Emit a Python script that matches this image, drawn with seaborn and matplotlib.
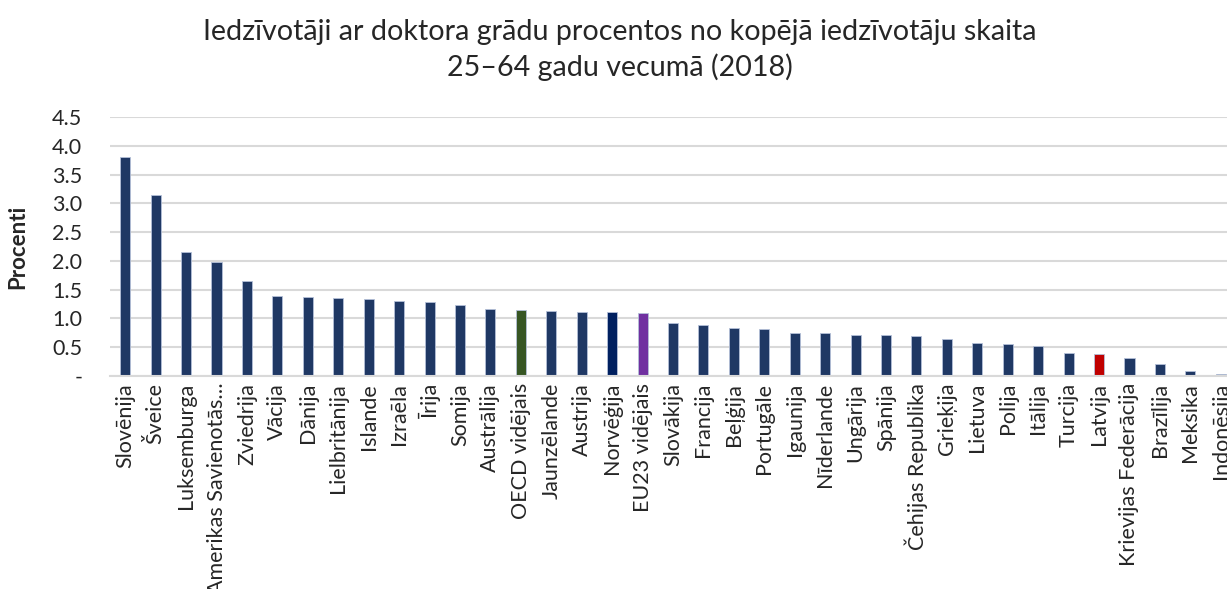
import matplotlib
matplotlib.use('Agg')
import matplotlib.pyplot as plt
import pandas as pd
import seaborn as sns

countries = [
    'Slovēnija', 'Šveice', 'Luksemburga', 'Amerikas Savienotās…', 'Zviedrija',
    'Vācija', 'Dānija', 'Lielbritānija', 'Islande', 'Izraēla', 'Īrija', 'Somija',
    'Austrālija', 'OECD vidējais', 'Jaunzēlande', 'Austrija', 'Norvēģija',
    'EU23 vidējais', 'Slovākija', 'Francija', 'Beļģija', 'Portugāle', 'Igaunija',
    'Nīderlande', 'Ungārija', 'Spānija', 'Čehijas Republika', 'Grieķija',
    'Lietuva', 'Polija', 'Itālija', 'Turcija', 'Latvija', 'Krievijas Federācija',
    'Brazīlija', 'Meksika', 'Indonēsija',
]
values = [
    3.80, 3.14, 2.15, 1.98, 1.65, 1.39, 1.37, 1.35, 1.34, 1.30, 1.29, 1.23,
    1.16, 1.15, 1.13, 1.11, 1.11, 1.09, 0.92, 0.88, 0.83, 0.81, 0.74, 0.74,
    0.72, 0.71, 0.70, 0.65, 0.58, 0.56, 0.52, 0.40, 0.38, 0.31, 0.20, 0.08, 0.03,
]
yticks = [0, 0.5, 1.0, 1.5, 2.0, 2.5, 3.0, 3.5, 4.0, 4.5]
ytick_labels = ['-', '0.5', '1.0', '1.5', '2.0', '2.5', '3.0', '3.5', '4.0', '4.5']

highlight = {
    'OECD vidējais': '#375623',
    'Norvēģija': '#002060',
    'EU23 vidējais': '#7030A0',
    'Latvija': '#C00000',
}
palette = {c: highlight.get(c, '#1F3864') for c in countries}

df = pd.DataFrame({'country': countries, 'value': values})

sns.set_style('white')
plt.rcParams['font.family'] = ['Lato', 'DejaVu Sans']

fig = plt.figure(figsize=(12.27, 5.89), dpi=100)
ax = fig.add_axes([110 / 1227, 1 - 376 / 589, (1236 - 110) / 1227, (376 - 117) / 589])

sns.barplot(data=df, x='country', y='value', hue='country', palette=palette,
            legend=False, width=0.33, ax=ax, edgecolor='#B4C0D8', linewidth=0.6,
            saturation=1)

ax.set_ylim(0, 4.5)
ax.set_xlim(-0.5, len(countries) - 0.5)
ax.set_yticks(yticks)
ax.set_yticklabels(ytick_labels, fontsize=15.5)
ax.tick_params(axis='x', rotation=90, labelsize=15.5, length=0, pad=5)
ax.tick_params(axis='y', length=0, pad=20)
ax.yaxis.grid(True, color='#D9D9D9', linewidth=1.5)
ax.set_axisbelow(True)
for s in ['top', 'right', 'left']:
    ax.spines[s].set_visible(False)
ax.spines['bottom'].set_color('#D9D9D9')
ax.spines['bottom'].set_linewidth(1.5)
ax.set_xlabel('')
ax.set_ylabel('Procenti', fontsize=16, fontweight='bold')
ax.yaxis.set_label_coords(-0.073, 0.5)

fig.text(620 / 1227, 1 - 50 / 589,
         'Iedzīvotāji ar doktora grādu procentos no kopējā iedzīvotāju skaita\n25–64 gadu vecumā (2018)',
         ha='center', va='center', fontsize=20.6, linespacing=1.35)

fig.savefig('out.png', dpi=100)
